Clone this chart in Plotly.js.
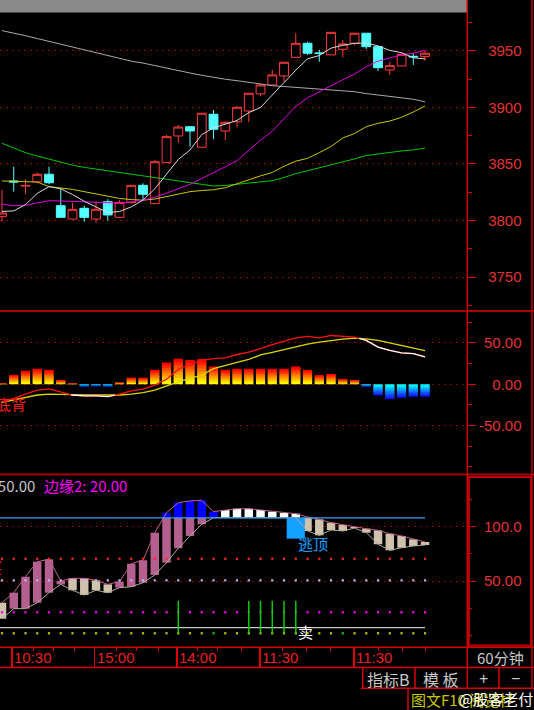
<!DOCTYPE html>
<html><head><meta charset="utf-8">
<script src="https://cdn.plot.ly/plotly-3.0.1.min.js"></script>
<style>html,body{margin:0;padding:0;background:#000;overflow:hidden}#chart{width:534px;height:710px}</style>
</head><body><div id="chart"></div>
<script>
// ---------- data ----------
const candleIdx = [0,1,2,3,4,5,6,7,8,9,10,11,12,13,14,15,16,17,18,19,20,21,22,23,24,25,26,27,28,29,30,31,32,33,34,35,36];
const openP  = [3803.4,3835,3830.5,3834.3,3840.9,3813.1,3801.3,3810.8,3801.3,3816.6,3802.8,3815.8,3831.1,3814.9,3851.2,3874.8,3883,3864.8,3894,3879.2,3887.4,3896.9,3912,3919.9,3927.9,3944.4,3956.8,3948.3,3946.5,3951.5,3956.8,3965.7,3953.8,3933.2,3936.7,3945.3,3945];
const highP  = [3827,3847.6,3836.7,3842.6,3847.6,3828.5,3815.8,3813.1,3816.6,3818.8,3818,3831.5,3832.9,3853.5,3875.7,3884.5,3883.5,3894.9,3897.8,3887.6,3901.3,3913,3921.3,3933.2,3940.5,3965.7,3958.2,3950.9,3966.5,3959.7,3966,3965.7,3954,3940.5,3948,3948,3950.3];
const lowP   = [3799,3825.5,3823.2,3832.9,3832,3802.8,3801.3,3799,3798,3799.8,3802.8,3815,3818.1,3814.9,3851.2,3868.9,3865.3,3864.8,3871.9,3871.2,3882.5,3887,3910,3919,3922.8,3944,3946.5,3940.5,3946.5,3944.4,3955,3951.8,3932.3,3928.8,3936.7,3937.6,3941.2];
const closeP = [3806.6,3834,3831,3840.9,3833.4,3802.8,3809.9,3802.8,3809.9,3804.9,3816.1,3831.1,3823.2,3852,3874.2,3882.7,3879.2,3894.9,3880.7,3886.9,3900.2,3912.6,3919.9,3928.8,3940,3956.8,3948,3947.8,3966.5,3956.2,3965.7,3953.8,3935.2,3937,3947.1,3944.8,3948];

const maWhite   = [3808,3808.5,3814,3824,3830,3828,3823,3817,3812,3807,3808,3812,3818,3828,3841,3854,3862.4,3876,3882,3885.5,3888.5,3895.5,3900,3911,3922,3933,3943,3946,3952.5,3955,3956.8,3957,3954.5,3950.5,3948.5,3944,3943];
const maMagenta = [3814.6,3813,3813.5,3815.8,3817.5,3817.3,3816.8,3816.5,3816,3815.5,3815.3,3816.5,3818,3820.5,3824,3828,3832,3837,3842,3847.5,3853,3862,3871,3879,3890,3901,3908.5,3914,3919.5,3924.5,3929.5,3936,3941,3944,3946.5,3948,3950.5];
const maYellow  = [3835,3834.8,3834.5,3834,3830,3829,3827.5,3825.5,3823.7,3821.5,3819.5,3818.5,3818,3819,3821,3823.5,3825.5,3826.5,3827.2,3829,3832.5,3836.5,3839.5,3842.5,3848,3852.5,3855,3860,3865.5,3873,3877,3883,3886,3888,3891.3,3896,3901.3];
const maGreen   = [3868.3,3864.5,3860,3857,3854.2,3851.5,3849,3847,3845.5,3844,3842.5,3841,3839.5,3838,3836.5,3835,3833,3831.5,3830.5,3831,3832,3833,3834,3835.2,3838,3841.5,3844,3846.5,3849.5,3852,3854.5,3857.5,3859,3860,3861.5,3862.5,3864];
const maGrey    = [3968,3966,3963.5,3961,3958.5,3955.5,3953,3950.5,3948,3945.5,3943.5,3941,3939.3,3937,3935,3933,3930.5,3928.5,3926.5,3925,3923.7,3922.5,3920.8,3919.3,3918.6,3918,3917.3,3916,3915.3,3914.6,3914,3912.3,3911,3910,3908.8,3907.3,3905];

const macdHist = [1.5,11.4,16.3,18.7,17.5,5.3,1.5,-3,-2.5,-3,2.5,8,8,17.5,26.4,30.9,29.3,30.5,21.5,17.5,18.7,18.7,18.7,18.7,18.7,21.5,17.5,11,12.6,6.5,5.3,-3,-13.4,-17.9,-16.3,-15,-15];
const macdDif  = [-21,-17,-12,-7,-5.5,-9,-13,-14,-14,-15,-12,-8,-6,-1,6,18,24,29,31,32,36,39,43,48,52,56,58,56,59,58,57,53,45,41,38,37,33];
const macdDea  = [-22,-19,-16,-13,-12,-12,-12.5,-13,-13,-13.5,-13,-12,-10,-7,-2,3,7,11,19,23,26.5,30,35.5,38.5,42,45,48.5,51,53,54.5,55.7,55,53,50,47,44,40.6];

const kdLow  = [15.1,24.4,24.4,29.9,39.2,46.9,41.4,37,41.4,39.2,43.8,44.7,48.4,55.6,66.9,80.3,91.7,102.5,108.6,108.6,108.6,108.6,108.6,108.6,108.6,108.6,96.3,92.3,97.2,96.3,99,94.7,84,78.4,80.8,82.4,83.3];
const kdHigh = [29.9,39.2,54,67.9,70.1,50,52.5,52.5,50.6,46.9,49.4,66,69.2,94.7,113.2,122.5,124.1,124.7,114.2,115.7,116.9,116.9,115.7,114.2,113,112.3,109.3,107.1,104,101.9,100,98.4,96.9,93.8,91.7,88.6,86.1];
const kdDir  = ['d','u','u','u','u','u','d','d','d','d','u','u','u','u','u','u','u','u','u','d','d','d','d','d','d','d','d','d','d','d','d','d','d','d','d','d','d'];
const kdEdge = 108.5;          // 边缘 level (blue line)
const topBoxIdx = [25], topBoxHigh = [108.1], topBoxLow = [89.2];
const sellIdx = [15,21,22,23,24,25], sellLow = 1.6, sellHigh = 31.5;
const dotLevels = [70.6, 50.6, 21, 1.6];
const dotColors = ['#ff2a2a', '#b8b8ee', '#ff00ff', '#c8c800'];
const greenDotIdx = [18, 29];
const whiteLevel = 6.8;

const timeTickIdx  = [0.86, 7.89, 14.90, 21.95, 29.97];
const timeLabels   = ['10:30','15:00','14:00','11:30','11:30'];
const timeMinorIdx = [2.66,4.37,6.21,9.76,11.46,13.30,16.64,18.38,20.4,23.89,25.91,27.95,32.0,34.04,36.06];
const priceTicks = [3750,3800,3850,3900,3950];
const macdTicks = [-50,0,50], macdTickText = ['-50.00','0.00','50.00'];
const kdTicks = [50,100], kdTickText = ['50.00','100.0'];

// ---------- helpers ----------
const W = 534, H = 710;
const px = x => x / W, py = y => 1 - y / H;
const NUM = 'Liberation Sans, Arial, sans-serif';
const CJK = 'Noto Sans CJK SC, sans-serif';
const RED = '#d80000';
const traces = [];

// ---------- main price panel ----------
const maLine = (y, c) => ({type:'scatter', mode:'lines', x:candleIdx, y, xaxis:'x', yaxis:'y', line:{color:c, width:1}, hoverinfo:'skip'});
traces.push({type:'candlestick', x:candleIdx, open:openP, high:highP, low:lowP, close:closeP, xaxis:'x', yaxis:'y',
  increasing:{line:{color:'#ff3c3c', width:1}, fillcolor:'#000000'},
  decreasing:{line:{color:'#54ffff', width:1}, fillcolor:'#54ffff'}, hoverinfo:'skip'});
traces.push(maLine(maGrey, '#a8a8a8'));
traces.push(maLine(maGreen, '#00c800'));
traces.push(maLine(maYellow, '#c8c800'));
traces.push(maLine(maMagenta, '#e000e0'));
traces.push(maLine(maWhite, '#d8d8d8'));

// ---------- MACD panel (gradient bars built from stacked overlapping slices) ----------
const NSEG = 8;
const lerp = (a, b, t) => a.map((v, k) => Math.round(v + (b[k] - v) * t));
for (let k = 0; k < NSEG; k++) {
  const t = k / (NSEG - 1);
  const posC = 'rgb(' + lerp([255,255,0],[255,0,0],t).join(',') + ')';
  const negC = 'rgb(' + lerp([0,255,255],[20,20,255],t).join(',') + ')';
  const hFactor = k < NSEG - 1 ? 1.6 : 1;
  traces.push({type:'bar', x:candleIdx, xaxis:'x2', yaxis:'y2',
    base: macdHist.map(v => v * k / NSEG), y: macdHist.map(v => v * hFactor / NSEG),
    width:0.78, marker:{color: macdHist.map(v => v >= 0 ? posC : negC), line:{width:0}}, hoverinfo:'skip'});
}
traces.push({type:'scatter', mode:'lines', x:candleIdx, y:macdDea, xaxis:'x2', yaxis:'y2', line:{color:'#d8d800', width:1.3}, hoverinfo:'skip'});
traces.push({type:'scatter', mode:'lines', x:candleIdx, y:macdDif, xaxis:'x2', yaxis:'y2', line:{color:'#ff1010', width:1.3}, hoverinfo:'skip'});
// white where DIF below DEA
(function(){
  const wx = [], wy = [];
  const d = macdDif.map((v, i) => v - macdDea[i]);
  for (let i = 0; i < d.length; i++) {
    if (d[i] < 0) { wx.push(candleIdx[i]); wy.push(macdDif[i]); }
    if (i < d.length - 1 && (d[i] < 0) !== (d[i+1] < 0)) {
      const t = d[i] / (d[i] - d[i+1]);
      wx.push(candleIdx[i] + t); wy.push(macdDif[i] + (macdDif[i+1] - macdDif[i]) * t);
      if (d[i] < 0) { wx.push(null); wy.push(null); }
    }
  }
  traces.push({type:'scatter', mode:'lines', x:wx, y:wy, xaxis:'x2', yaxis:'y2', line:{color:'#ffffff', width:1.3}, hoverinfo:'skip', connectgaps:false});
})();

// ---------- edge (third) panel ----------
const lowerBase = [], lowerH = [], lowerC = [], upperBase = [], upperH = [], upperC = [];
for (let i = 0; i < candleIdx.length; i++) {
  const lo = kdLow[i], hi = kdHigh[i], up = kdDir[i] === 'u';
  if (lo < kdEdge) { lowerBase.push(lo); lowerH.push(Math.min(hi, kdEdge) - lo); }
  else { lowerBase.push(null); lowerH.push(null); }
  lowerC.push(up ? '#b4608e' : '#cfc3ad');
  if (hi > kdEdge + 1) { upperBase.push(Math.max(lo, kdEdge)); upperH.push(hi - Math.max(lo, kdEdge)); }
  else { upperBase.push(null); upperH.push(null); }
  upperC.push(up ? '#0000ff' : '#ffffff');
}
traces.push({type:'bar', x:candleIdx, base:lowerBase, y:lowerH, width:0.72, xaxis:'x3', yaxis:'y3', marker:{color:lowerC, line:{width:0}}, hoverinfo:'skip'});
traces.push({type:'bar', x:candleIdx, base:upperBase, y:upperH, width:0.72, xaxis:'x3', yaxis:'y3', marker:{color:upperC, line:{width:0}}, hoverinfo:'skip'});
traces.push({type:'bar', x:topBoxIdx, base:topBoxLow, y:topBoxHigh.map((v,i)=>v-topBoxLow[i]), width:1.55, xaxis:'x3', yaxis:'y3', marker:{color:'#14a0ff', line:{width:0}}, hoverinfo:'skip'});
traces.push({type:'scatter', mode:'lines', x:candleIdx, y:kdHigh, xaxis:'x3', yaxis:'y3', line:{color:'#c0608f', width:1}, hoverinfo:'skip'});
traces.push({type:'scatter', mode:'lines', x:candleIdx, y:kdLow, xaxis:'x3', yaxis:'y3', line:{color:'#b0aa98', width:1}, hoverinfo:'skip'});
traces.push({type:'scatter', mode:'lines', x:[candleIdx[0]-0.17, candleIdx[candleIdx.length-1]], y:[kdEdge, kdEdge], xaxis:'x3', yaxis:'y3', line:{color:'#3aa0f0', width:1.3}, hoverinfo:'skip'});
traces.push({type:'scatter', mode:'lines', x:[candleIdx[0]-0.17, candleIdx[candleIdx.length-1]], y:[whiteLevel, whiteLevel], xaxis:'x3', yaxis:'y3', line:{color:'#c8c8c8', width:1.3}, hoverinfo:'skip'});
dotLevels.forEach((lv, j) => {
  traces.push({type:'scatter', mode:'markers', x:candleIdx, y:candleIdx.map(() => lv), xaxis:'x3', yaxis:'y3',
    marker:{symbol:'square', size:2.2, color: candleIdx.map(i => (j === 3 && greenDotIdx.includes(i)) ? '#00d000' : dotColors[j]), line:{width:0}}, hoverinfo:'skip'});
});
(function(){
  const gx = [], gy = [];
  sellIdx.forEach(i => { gx.push(i, i, null); gy.push(sellLow, sellHigh, null); });
  traces.push({type:'scatter', mode:'lines', x:gx, y:gy, xaxis:'x3', yaxis:'y3', line:{color:'#00d000', width:1.5}, hoverinfo:'skip'});
})();

// dummy traces for the label axes
['y4','y5','y6'].forEach((ya, k) => traces.push({type:'scatter', mode:'markers', x:[null], y:[null], xaxis:['x','x2','x3'][k], yaxis:ya, hoverinfo:'skip', showlegend:false}));

// ---------- layout ----------
const xr = [-0.17, 39.57];
const xdom = [0, 467 / W];
const dMain = [py(310), 1], dMacd = [py(474), py(311)], dKd = [py(647), py(476)];
const rMain = [3720.8, 3995.1], rMacd = [-108.5, 88.6], rKd = [-11.1, 147.2];
const gridBase = {showgrid:true, gridcolor:'#8a0000', griddash:'2px,4px', gridwidth:1, zeroline:false, showline:false,
  side:'right', ticks:'outside', ticklen:8, tickcolor:RED, tickwidth:1, showticklabels:false, fixedrange:true};
const labelAxis = (ov, dom, rng, tv, tt) => ({overlaying:ov, anchor:'free', position:524.5 / W, side:'right', range:rng,
  tickvals:tv, ticktext:tt, ticklabelposition:'inside', showgrid:false, zeroline:false, showline:false, ticks:'',
  tickfont:{family:NUM, size:15, color:'#e23434'}, fixedrange:true});
const xBase = {range:xr, domain:xdom, showgrid:false, zeroline:false, showline:false, showticklabels:false, ticks:'', fixedrange:true};

const shapes = [];
const hline = (y, x0, x1, c, w) => shapes.push({type:'line', xref:'paper', yref:'paper', x0:px(x0), x1:px(x1), y0:py(y), y1:py(y), line:{color:c, width:w}});
const vline = (x, y0, y1, c, w) => shapes.push({type:'line', xref:'paper', yref:'paper', x0:px(x), x1:px(x), y0:py(y0), y1:py(y1), line:{color:c, width:w}});
shapes.push({type:'rect', xref:'paper', yref:'paper', x0:0, x1:px(467), y0:py(12.5), y1:1, fillcolor:'#8a8a8a', line:{width:0}, layer:'above'});
hline(311, 0, 534, '#a80000', 2);
hline(474.5, 0, 534, '#a80000', 2);
hline(647.3, 0, 534, '#d80000', 1.5);
hline(667.5, 0, 534, '#d80000', 1.5);
hline(688.3, 361, 534, '#d80000', 1.5);
vline(467.3, 0, 688.3, '#d00000', 1.5);
vline(532, 0, 688.3, '#c00000', 1.5);
shapes.push({type:'rect', xref:'paper', yref:'paper', x0:px(468.8), x1:px(531), y0:py(645.5), y1:py(477), line:{color:'#c00000', width:2}});
vline(362.7, 667.5, 688.3, '#d80000', 1.5);
vline(415, 667.5, 688.3, '#d80000', 1.5);
vline(499, 667.5, 688.3, '#d80000', 1.5);
vline(408, 688.3, 710, '#d80000', 1.5);

const ann = [];
const txt = (text, x, y, xa, color, size, fam, extra) => ann.push(Object.assign({text, x:px(x), y:py(y), xref:'paper', yref:'paper', xanchor:xa, yanchor:'middle', showarrow:false, font:{family:fam, size, color}}, extra || {}));
timeTickIdx.forEach((t, k) => ann.push({text:timeLabels[k], x:t, xref:'x3', y:py(657.5), yref:'paper', xanchor:'left', yanchor:'middle', showarrow:false, font:{family:NUM, size:15, color:'#e82020'}}));
txt('60分钟', 500, 657.5, 'center', '#c8c8c8', 15, CJK);
txt('指标B', 388.5, 678.5, 'center', '#c8c8c8', 16, CJK);
txt('模 板', 441, 678.5, 'center', '#c8c8c8', 16, CJK);
txt('+', 483.5, 678.5, 'center', '#c8c8c8', 16, NUM);
txt('−', 515, 678.5, 'center', '#c8c8c8', 16, NUM);
txt('图文F10 阅览栏', 409, 699.5, 'left', '#c8c800', 15, CJK);
txt('@股客老付', 457, 698.5, 'left', '#ffffff', 15, CJK);
txt('边缘1: 50.00', 37, 485.5, 'right', '#c4c4c4', 15, CJK);
txt('边缘2: 20.00', 42, 485.5, 'left', '#ff00ff', 15, CJK);
txt('底背', 28, 403.5, 'right', '#ff1a1a', 15, CJK);
txt('买', 3.5, 566, 'right', '#ff1a1a', 15, CJK);
ann.push({text:'逃顶', x:topBoxIdx[0], xref:'x3', y:84.7, yref:'y3', xanchor:'left', yanchor:'middle', showarrow:false, font:{family:CJK, size:15, color:'#1aa0ff'}});
ann.push({text:'卖', x:sellIdx[sellIdx.length-1], xref:'x3', y:3.5, yref:'y3', xanchor:'left', yanchor:'middle', showarrow:false, font:{family:CJK, size:15, color:'#ffffff'}});

const layout = {
  width:W, height:H, margin:{l:0, r:0, t:0, b:0}, paper_bgcolor:'#000', plot_bgcolor:'#000',
  showlegend:false, barmode:'overlay', boxgap:0.25, boxgroupgap:0, dragmode:false,
  xaxis:Object.assign({}, xBase, {anchor:'y', rangeslider:{visible:false}}),
  xaxis2:Object.assign({}, xBase, {anchor:'y2'}),
  xaxis3:Object.assign({}, xBase, {anchor:'y3', ticks:'outside', tickvals:timeTickIdx, ticktext:timeLabels, ticklen:20, tickcolor:'#e00000', tickwidth:1.5,
     minor:{tickvals:timeMinorIdx, ticks:'outside', ticklen:3, tickcolor:'#e00000', tickwidth:1}}),
  yaxis:Object.assign({}, gridBase, {anchor:'x', domain:dMain, range:rMain, tickvals:priceTicks, minor:{dtick:25, tick0:3750, ticks:'outside', ticklen:4, tickcolor:RED, showgrid:false}}),
  yaxis2:Object.assign({}, gridBase, {anchor:'x2', domain:dMacd, range:rMacd, tickvals:macdTicks, minor:{dtick:25, tick0:0, ticks:'outside', ticklen:4, tickcolor:RED, showgrid:false}}),
  yaxis3:Object.assign({}, gridBase, {anchor:'x3', domain:dKd, range:rKd, tickvals:kdTicks, minor:{dtick:25, tick0:0, ticks:'outside', ticklen:4, tickcolor:RED, showgrid:false}}),
  yaxis4:labelAxis('y', dMain, rMain, priceTicks, priceTicks.map(String)),
  yaxis5:labelAxis('y2', dMacd, rMacd, macdTicks, macdTickText),
  yaxis6:labelAxis('y3', dKd, rKd, kdTicks, kdTickText),
  shapes, annotations:ann
};
Plotly.newPlot('chart', traces, layout, {staticPlot:true, displayModeBar:false});
</script>
</body></html>
